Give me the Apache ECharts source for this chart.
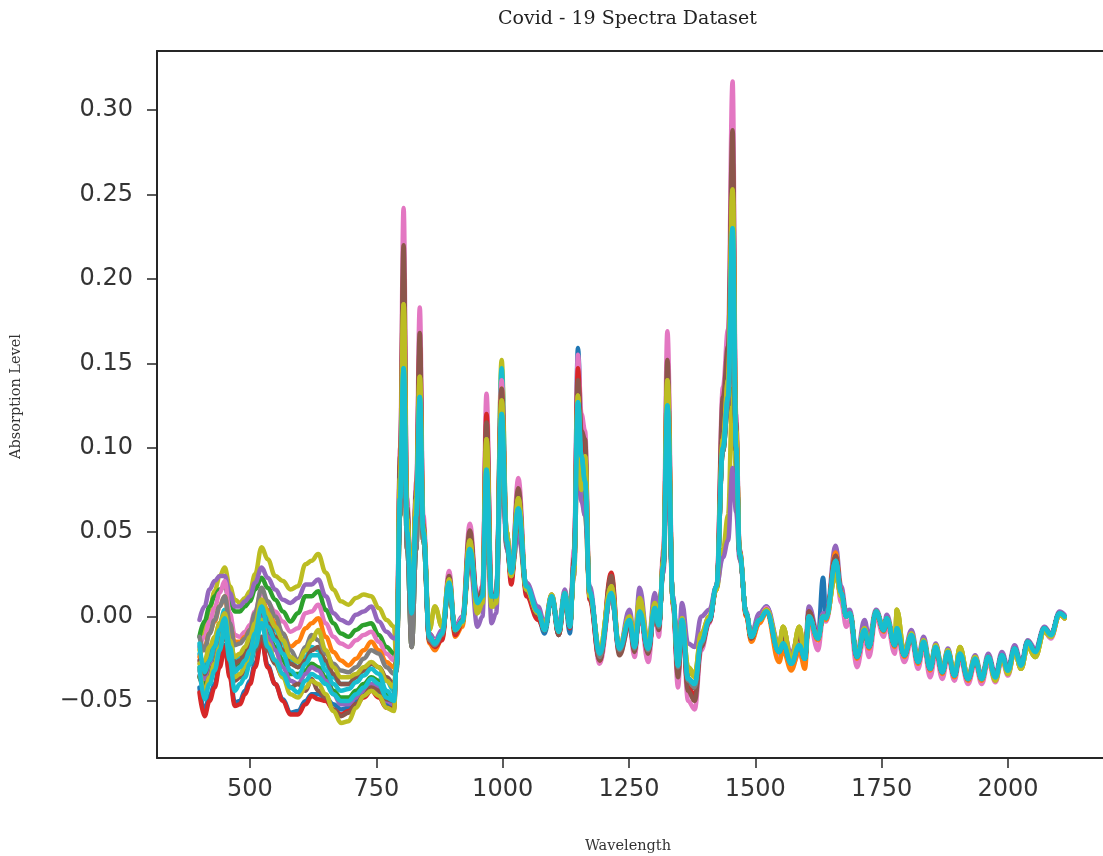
<!DOCTYPE html>
<html><head><meta charset="utf-8">
<style>html,body{margin:0;padding:0;background:#fff}#c{width:1103px;height:856px}</style>
<script src="https://cdn.jsdelivr.net/npm/echarts@6/dist/echarts.min.js"></script>
</head><body><div id="c"></div>
<script>
const chartTitle = "Covid - 19 Spectra Dataset";
const xName = "Wavelength";
const yName = "Absorption Level";
const xTicks = [500,750,1000,1250,1500,1750,2000];
const yTicks = [-0.05,0,0.05,0.10,0.15,0.20,0.25,0.30];
const yTickLabels = ["\u22120.05","0.00","0.05","0.10","0.15","0.20","0.25","0.30"];

const waveVisible = [400,410,420,430,440,450,460,470,480,490,500,510,523,535,550,565,580,595,610,622,635,650,665,680,695,710,725,740,755,770,785];
const wavePeaks = [790,797,804,811,820,829,836,843,855,866,
 880,894,906,920,935,950,960,968,978,987,
 998,1008,1017,1031,1047,1070,1083,1097,1111,1123,
 1133,1141,1149,1156,1163,1172,1192,1215,1231,1251,
 1261,1271,1288,1301,1309,1318,1326,1337,1347,1355,
 1367,1380,1393,1409,1423,1436,1446,1455,1462,1469,
 1482,1492];
const waveTail = [1508,1522,1547,1555,1571,1587,1598,1606,1624,1634,
 1640,1659,1670,1680,1687,1701,1716,1725,1739,1754,
 1760,1776,1780,1795,1809,1822,1833,1846,1857,1870,
 1881,1894,1905,1921,1935,1948,1961,1975,1988,2000,
 2013,2026,2039,2054,2072,2085,2102,2112];

const visOliveTop = [-.020,-.006,.004,.015,.024,.029,.018,.010,.008,.011,.015,.025,.041,.034,.024,.021,.016,.018,.031,.033,.037,.026,.016,.009,.007,.011,.013,.012,.005,-.002,-.006];
const visPurple = [-.002,.006,.016,.021,.024,.024,.014,.006,.006,.009,.012,.020,.029,.023,.016,.010,.008,.011,.019,.019,.022,.012,.002,-.002,-.004,.001,.003,.006,-.003,-.009,-.013];
const visGreen = [-.012,-.003,.006,.012,.016,.018,.009,.003,.003,.006,.009,.016,.023,.017,.010,.003,-.003,.002,.012,.012,.015,.004,-.004,-.010,-.012,-.008,-.005,-.004,-.011,-.018,-.022];
const visPink = [-.018,-.012,-.003,.005,.014,.021,.002,-.011,-.012,-.009,-.005,.003,.015,.008,.003,-.003,-.009,-.007,.002,.003,.007,-.004,-.012,-.016,-.018,-.014,-.011,-.009,-.015,-.022,-.026];
const visOrange = [-.024,-.018,-.010,-.003,.006,.012,-.005,-.015,-.015,-.012,-.008,.000,.010,.004,-.004,-.010,-.018,-.015,-.007,-.004,-.001,-.012,-.021,-.026,-.029,-.025,-.020,-.015,-.020,-.027,-.030];
const visGray = [-.012,-.020,-.010,-.002,.006,.012,-.004,-.017,-.016,-.013,-.008,.002,.017,.009,.000,-.010,-.020,-.026,-.018,-.011,-.014,-.022,-.028,-.032,-.033,-.030,-.025,-.020,-.022,-.030,-.034];
const visOliveMid = [-.028,-.026,-.018,-.012,-.004,.002,-.014,-.024,-.022,-.018,-.012,-.004,.010,.002,-.006,-.014,-.024,-.027,-.020,-.014,-.008,-.020,-.030,-.036,-.036,-.034,-.030,-.027,-.030,-.038,-.042];
const visCyanMid = [-.016,-.033,-.026,-.018,-.008,-.001,-.018,-.033,-.030,-.026,-.020,-.010,.006,-.006,-.014,-.022,-.032,-.036,-.028,-.023,-.023,-.032,-.040,-.044,-.043,-.039,-.035,-.031,-.034,-.044,-.048];
const visBrown = [-.035,-.043,-.036,-.028,-.018,-.010,-.026,-.038,-.036,-.032,-.028,-.020,-.012,-.020,-.028,-.036,-.042,-.040,-.044,-.037,-.044,-.048,-.055,-.059,-.057,-.052,-.047,-.042,-.044,-.049,-.050];
const visCyanLow = [-.030,-.049,-.040,-.032,-.020,-.006,-.026,-.044,-.040,-.036,-.028,-.018,-.004,-.018,-.026,-.034,-.042,-.045,-.038,-.034,-.036,-.040,-.046,-.050,-.050,-.046,-.042,-.037,-.040,-.048,-.050];
const visRed = [-.045,-.059,-.050,-.042,-.030,-.018,-.036,-.053,-.052,-.046,-.040,-.030,-.014,-.030,-.040,-.050,-.058,-.058,-.052,-.047,-.049,-.050,-.055,-.058,-.056,-.052,-.048,-.044,-.048,-.054,-.055];
const visBlue = [-.042,-.056,-.047,-.040,-.028,-.017,-.034,-.051,-.050,-.044,-.038,-.028,-.013,-.029,-.040,-.049,-.057,-.056,-.050,-.046,-.046,-.048,-.052,-.055,-.054,-.050,-.046,-.042,-.046,-.052,-.053];
const visOliveLow = [-.030,-.045,-.036,-.028,-.018,-.006,-.022,-.036,-.034,-.030,-.024,-.014,-.002,-.016,-.026,-.036,-.046,-.048,-.042,-.038,-.040,-.046,-.056,-.063,-.062,-.054,-.047,-.044,-.047,-.054,-.056];
const visGreenLow = [-.036,-.040,-.032,-.024,-.014,-.004,-.020,-.030,-.028,-.024,-.018,-.010,.000,-.010,-.018,-.026,-.034,-.034,-.032,-.028,-.030,-.036,-.044,-.048,-.048,-.044,-.040,-.036,-.038,-.046,-.048];
const visBrownHigh = [-.026,-.034,-.026,-.018,-.008,.000,-.014,-.028,-.026,-.022,-.016,-.008,.004,-.004,-.012,-.020,-.028,-.030,-.026,-.020,-.018,-.026,-.034,-.040,-.040,-.036,-.032,-.028,-.030,-.036,-.040];
const visPurpleLow = [-.032,-.037,-.028,-.020,-.010,.002,-.018,-.032,-.030,-.026,-.022,-.014,.002,-.012,-.020,-.030,-.038,-.040,-.034,-.030,-.032,-.038,-.046,-.052,-.052,-.048,-.044,-.040,-.042,-.050,-.052];
const visCyanUpper = [-.022,-.030,-.022,-.014,-.004,.004,-.012,-.026,-.024,-.020,-.014,-.006,.008,.000,-.008,-.016,-.026,-.030,-.024,-.018,-.020,-.028,-.036,-.040,-.040,-.036,-.032,-.028,-.030,-.038,-.044];

const peakCyan = [-.030,.070,.147,.050,.002,.060,.130,.050,-.012,-.016,
 -.010,.020,-.008,-.003,.040,.008,.012,.087,.012,.012,
 .120,.045,.026,.064,.018,.003,-.008,.012,-.009,.014,
 -.006,.030,.127,.095,.080,.015,-.022,.014,-.019,-.002,
 -.018,.003,-.019,.005,-.005,.030,.125,.010,-.029,-.002,
 -.037,-.040,-.015,-.002,.018,.100,.130,.230,.100,.037,
 .002,-.012];
const peakCyanHigh = [-.030,.070,.145,.050,.002,.060,.128,.050,-.012,-.016,
 -.010,.020,-.008,-.003,.040,.008,.012,.085,.012,.012,
 .147,.050,.026,.064,.018,.003,-.008,.012,-.009,.014,
 -.006,.030,.125,.095,.082,.015,-.022,.014,-.019,-.002,
 -.018,.003,-.019,.005,-.005,.030,.122,.010,-.029,-.002,
 -.037,-.040,-.015,-.002,.018,.100,.130,.226,.100,.037,
 .002,-.012];
const peakPink = [-.022,.100,.242,.070,.004,.080,.183,.060,-.014,-.014,
 -.012,.027,-.009,-.001,.055,.010,.018,.132,.014,.014,
 .140,.050,.024,.082,.016,.002,-.007,.013,-.010,.013,
 -.006,.040,.155,.120,.110,.012,-.028,.012,-.022,-.006,
 -.024,.003,-.027,.005,-.012,.040,.169,.006,-.042,-.003,
 -.050,-.055,-.020,-.004,.018,.136,.170,.317,.120,.040,
 .000,-.014];
const peakBrown = [-.024,.095,.220,.065,.002,.075,.168,.055,-.014,-.015,
 -.011,.024,-.009,-.002,.051,.009,.016,.115,.013,.013,
 .135,.048,.024,.076,.015,.001,-.008,.012,-.011,.013,
 -.005,.035,.140,.110,.105,.012,-.026,.024,-.023,-.005,
 -.021,.004,-.022,.005,-.008,.036,.152,.008,-.036,-.003,
 -.044,-.050,-.018,-.003,.017,.130,.160,.288,.115,.039,
 .001,-.013];
const peakRed = [-.026,.090,.205,.062,.000,.072,.160,.053,-.015,-.018,
 -.014,.022,-.011,-.004,.048,.009,.014,.120,.012,.011,
 .130,.046,.019,.072,.012,-.002,-.008,.012,-.011,.012,
 -.007,.032,.147,.105,.098,.010,-.026,.026,-.021,-.004,
 -.020,.003,-.021,.004,-.007,.034,.140,.007,-.034,-.004,
 -.042,-.047,-.017,-.003,.016,.120,.150,.270,.110,.038,
 .001,-.013];
const peakOlive = [-.026,.082,.185,.058,.010,.070,.142,.052,-.008,.006,
 -.006,.022,-.008,-.004,.045,.002,.008,.105,.006,.008,
 .128,.050,.024,.070,.016,.002,-.006,.013,-.009,.014,
 -.005,.026,.131,.075,.095,.012,-.018,.018,-.018,.000,
 -.014,.011,-.016,.008,-.004,.033,.140,.008,-.028,-.001,
 -.030,-.034,-.010,.000,.016,.105,.140,.253,.110,.038,
 .002,-.012];
const peakOliveLow = [-.030,.060,.130,.045,.006,.050,.110,.045,-.010,-.014,
 -.010,.016,-.008,-.003,.032,.004,.006,.070,.006,.006,
 .152,.050,.024,.050,.015,.002,-.007,.012,-.008,.014,
 -.005,.024,.105,.072,.060,.014,-.020,.012,-.019,-.002,
 -.016,.006,-.017,.006,-.005,.028,.100,.010,-.028,-.002,
 -.032,-.036,-.012,.000,.016,.040,.060,.135,.085,.036,
 .002,-.012];
const peakPurple = [-.012,.065,.140,.048,.006,.055,.115,.048,-.010,-.014,
 -.008,.018,-.006,.000,.034,-.006,.000,.075,-.004,.002,
 .100,.040,.026,.048,.020,.006,-.004,.013,-.006,.016,
 -.002,.024,.105,.068,.060,.018,-.022,.012,-.018,.004,
 -.014,.017,-.016,.014,-.002,.026,.095,.012,-.022,.008,
 -.016,-.018,.000,.004,.018,.035,.045,.088,.062,.034,
 .003,-.010];
const peakGray = [-.032,.060,.130,.040,-.018,.040,.115,.045,-.014,-.017,
 -.011,.018,-.008,-.003,.037,.006,.010,.082,.010,.010,
 .110,.042,.024,.060,.016,.002,-.008,.012,-.009,.013,
 -.006,.028,.120,.090,.075,.014,-.024,.013,-.020,-.003,
 -.019,.003,-.020,.004,-.006,.029,.118,.009,-.030,-.003,
 -.038,-.042,-.016,-.002,.017,.098,.125,.215,.098,.036,
 .002,-.012];
const peakBlue = [-.028,.070,.150,.052,.001,.060,.132,.050,-.014,-.018,
 -.012,.020,-.009,-.004,.040,.007,.011,.088,.011,.011,
 .125,.045,.024,.063,.015,.000,-.010,.011,-.011,.012,
 -.010,.032,.159,.110,.085,.012,-.025,.013,-.021,-.004,
 -.019,.002,-.020,.004,-.006,.031,.128,.009,-.034,-.003,
 -.044,-.042,-.016,-.003,.017,.105,.135,.235,.100,.037,
 .001,-.013];
const peakOrange = [-.030,.072,.150,.052,.002,.062,.135,.052,-.016,-.020,
 -.013,.020,-.012,-.006,.040,.007,.011,.090,.011,.011,
 .135,.046,.022,.066,.017,.002,-.008,.012,-.009,.014,
 -.006,.030,.128,.095,.082,.014,-.023,.014,-.020,-.003,
 -.019,.003,-.020,.004,-.006,.030,.126,.010,-.030,-.002,
 -.038,-.041,-.016,-.002,.017,.100,.132,.232,.100,.037,
 .000,-.015];

const tailCyan = [-.002,.003,-.021,-.016,-.028,-.017,-.025,.000,-.013,.000,
 -.001,.033,.014,.000,.002,-.024,-.008,-.018,.003,-.008,
 -.001,-.017,-.007,-.023,-.011,-.027,-.015,-.031,-.018,-.033,
 -.021,-.035,-.022,-.037,-.025,-.037,-.024,-.036,-.023,-.032,
 -.019,-.029,-.015,-.021,-.007,-.011,.002,.000];
const tailPurple = [.002,.006,-.016,-.008,-.022,-.009,-.020,.006,-.010,.002,
 .001,.042,.018,.003,.004,-.022,-.002,-.012,.004,-.006,
 .001,-.015,-.005,-.020,-.008,-.024,-.012,-.029,-.016,-.031,
 -.019,-.033,-.020,-.035,-.023,-.035,-.022,-.034,-.021,-.030,
 -.017,-.027,-.014,-.019,-.006,-.010,.003,.001];
const tailPink = [-.004,.005,-.024,-.020,-.030,-.022,-.028,-.002,-.020,-.002,
 -.003,.028,.008,-.006,-.002,-.030,-.012,-.024,.000,-.012,
 -.004,-.022,-.011,-.027,-.014,-.031,-.018,-.036,-.022,-.037,
 -.024,-.038,-.025,-.040,-.028,-.040,-.027,-.039,-.026,-.035,
 -.021,-.031,-.017,-.023,-.009,-.013,.001,-.001];
const tailOrange = [-.004,.002,-.027,-.020,-.032,-.020,-.031,-.002,-.014,-.001,
 -.002,.038,.015,.000,.002,-.025,-.009,-.019,.002,-.009,
 -.002,-.018,-.008,-.024,-.012,-.028,-.016,-.032,-.019,-.034,
 -.022,-.036,-.023,-.038,-.026,-.038,-.025,-.037,-.024,-.033,
 -.020,-.030,-.016,-.022,-.008,-.012,.001,-.001];
const tailOlive = [-.002,.004,-.017,-.006,-.026,-.006,-.024,.000,-.013,.000,
 -.001,.025,.012,.000,.002,-.023,-.007,-.017,.003,-.007,
 -.001,-.016,.004,-.022,-.010,-.026,-.014,-.030,-.017,-.032,
 -.020,-.034,-.018,-.036,-.024,-.037,-.024,-.038,-.024,-.034,
 -.021,-.031,-.018,-.024,-.009,-.012,.001,-.001];
const tailBlue = [-.002,.006,-.023,-.018,-.029,-.018,-.026,.001,-.012,.023,
 .000,.034,.014,.000,.002,-.024,-.008,-.018,.003,-.008,
 -.001,-.017,-.007,-.023,-.011,-.027,-.015,-.031,-.018,-.033,
 -.021,-.035,-.022,-.037,-.025,-.037,-.024,-.036,-.023,-.032,
 -.019,-.029,-.015,-.021,-.007,-.011,.002,.000];
const tailRed = [-.002,.004,-.020,-.010,-.027,-.010,-.025,.003,-.013,.000,
 -.001,.036,.014,.000,.002,-.024,-.008,-.018,.003,-.008,
 -.001,-.017,-.007,-.023,-.011,-.027,-.015,-.031,-.018,-.033,
 -.021,-.035,-.022,-.037,-.025,-.037,-.024,-.036,-.023,-.032,
 -.019,-.029,-.015,-.021,-.007,-.011,.002,.000];

const wavelengths = waveVisible.concat(wavePeaks, waveTail);
const spectra = [
 ["#bcbd22", visOliveTop, peakOliveLow, tailOlive],
 ["#1f77b4", visBlue, peakBlue, tailBlue],
 ["#17becf", visCyanUpper, peakCyanHigh, tailCyan],
 ["#2ca02c", visGreen, peakGray, tailCyan],
 ["#2ca02c", visGreenLow, peakCyan, tailCyan],
 ["#9467bd", visPurple, peakPurple, tailPurple],
 ["#9467bd", visPurpleLow, peakCyan, tailCyan],
 ["#e377c2", visPink, peakPink, tailPink],
 ["#ff7f0e", visOrange, peakOrange, tailOrange],
 ["#d62728", visRed, peakRed, tailRed],
 ["#8c564b", visBrown, peakBrown, tailRed],
 ["#8c564b", visBrownHigh, peakGray, tailCyan],
 ["#7f7f7f", visGray, peakGray, tailCyan],
 ["#bcbd22", visOliveLow, peakOlive, tailOlive],
 ["#bcbd22", visOliveMid, peakOlive, tailOlive],
 ["#17becf", visCyanLow, peakCyan, tailCyan],
 ["#17becf", visCyanMid, peakCyan, tailCyan]
];

const axisInk = "#262626";
const serif = "DejaVu Serif";
const chart = echarts.init(document.getElementById("c"), null, {renderer:"canvas"});
chart.setOption({
 animation:false,
 backgroundColor:"#fff",
 title:{text:chartTitle,left:622.5,top:5,textAlign:"center",
  textStyle:{fontFamily:serif,fontWeight:"normal",fontSize:19,color:"#222"}},
 grid:{left:157,right:0,top:51,bottom:98,outerBoundsMode:"none"},
 xAxis:[{
  type:"value",min:316,max:2188,position:"bottom",
  name:xName,nameLocation:"middle",nameGap:81,
  nameTextStyle:{fontFamily:serif,fontSize:14.5,color:"#333",padding:[0,4,0,0]},
  splitLine:{show:false},
  axisLine:{show:true,onZero:false,lineStyle:{color:axisInk,width:2}},
  axisTick:{show:true,length:10,customValues:xTicks,lineStyle:{color:axisInk,width:1.5}},
  axisLabel:{customValues:xTicks,margin:20,fontFamily:"DejaVu Sans",fontSize:24,color:"#333",formatter:v=>String(v)}
 },{
  type:"value",min:316,max:2188,position:"top",
  splitLine:{show:false},axisTick:{show:false},axisLabel:{show:false},
  axisLine:{show:true,onZero:false,lineStyle:{color:axisInk,width:2}}
 }],
 yAxis:{
  type:"value",min:-0.0838,max:0.335,
  name:yName,nameLocation:"middle",nameGap:133,nameRotate:90,
  nameTextStyle:{fontFamily:serif,fontSize:14.5,color:"#333",padding:[0,0,0,16]},
  splitLine:{show:false},
  axisLine:{show:true,onZero:false,lineStyle:{color:axisInk,width:2}},
  axisTick:{show:true,length:10,customValues:yTicks,lineStyle:{color:axisInk,width:1.5}},
  axisLabel:{customValues:yTicks,margin:24,fontFamily:"DejaVu Sans",fontSize:24,color:"#333",
   formatter:v=>yTickLabels[yTicks.findIndex(t=>Math.abs(t-v)<1e-6)]}
 },
 series:spectra.map(([color,vis,peak,tail])=>{
  const values = vis.concat(peak,tail);
  return {type:"line",showSymbol:false,symbol:"none",smooth:0.4,smoothMonotone:"x",
   color:color,silent:true,
   lineStyle:{color:color,width:4.5,join:"round",cap:"round"},
   data:wavelengths.map((w,i)=>[w,values[i]])};
 })
});
</script></body></html>
